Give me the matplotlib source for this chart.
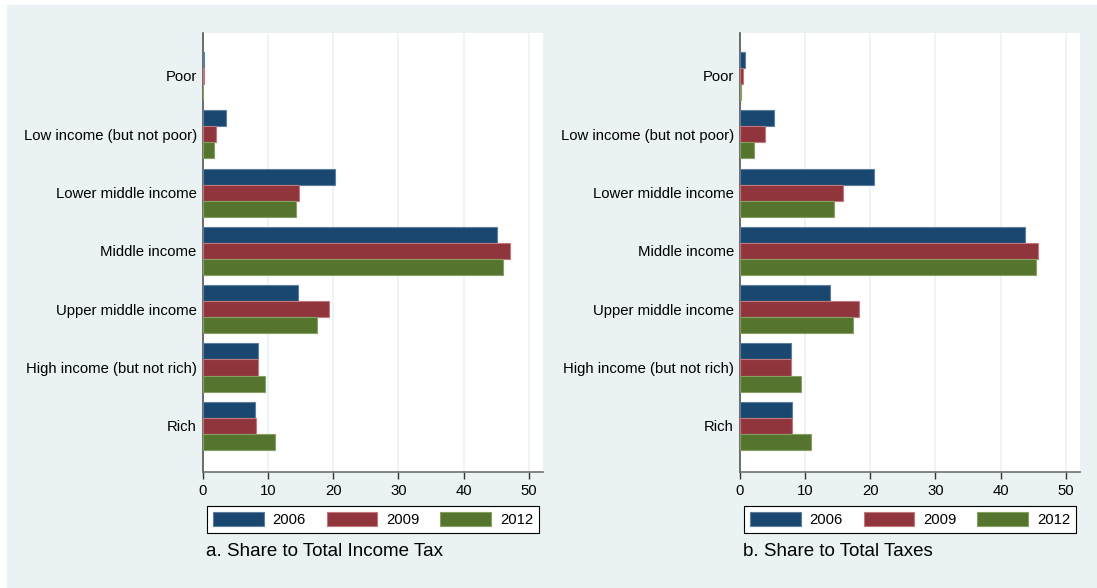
import matplotlib.pyplot as plt
from matplotlib.patches import Rectangle

categories = ["Poor", "Low income (but not poor)", "Lower middle income",
              "Middle income", "Upper middle income",
              "High income (but not rich)", "Rich"]
years = ["2006", "2009", "2012"]

# a. share to total income tax
income_2006 = [0.2, 3.5, 20.2, 45.1, 14.6, 8.5, 8.0]
income_2009 = [0.1, 2.0, 14.7, 47.2, 19.4, 8.5, 8.1]
income_2012 = [0.05, 1.7, 14.2, 46.1, 17.5, 9.5, 11.0]

# b. share to total taxes
taxes_2006 = [0.7, 5.2, 20.5, 43.8, 13.8, 7.8, 8.0]
taxes_2009 = [0.5, 3.8, 15.8, 45.8, 18.2, 7.8, 8.0]
taxes_2012 = [0.2, 2.2, 14.5, 45.4, 17.3, 9.4, 10.9]

xticks = [0, 10, 20, 30, 40, 50]

colors = ["#1a476f", "#90353b", "#55752f"]
edges = ["#5d7e9c", "#c0787d", "#86a064"]
bg = "#eaf2f3"

plt.rcParams['font.family'] = ['Liberation Sans', 'DejaVu Sans']
plt.rcParams['font.size'] = 10.7

fig = plt.figure(figsize=(10.97, 5.88), dpi=100)
fig.patch.set_facecolor("white")
fig.patches.append(Rectangle((7 / 1097, 0), 1 - 7 / 1097, 1 - 5 / 588,
                             transform=fig.transFigure, facecolor=bg,
                             edgecolor="none", zorder=-10))

h = 0.2745


def panel(left, series, subtitle):
    ax = fig.add_axes([left, 0.1978, 0.310, 0.7456])
    ax.set_facecolor("white")
    for k, vals in enumerate(series):
        pos = [i + (k - 1) * h for i in range(len(categories))]
        ax.barh(pos, vals, height=h, color=colors[k], edgecolor=edges[k],
                linewidth=0.8, label=years[k], zorder=3)
    ax.set_ylim(6.787, -0.732)
    ax.set_xlim(0, 52.2)
    ax.set_yticks(range(len(categories)))
    ax.set_yticklabels(categories)
    ax.set_xticks(xticks)
    ax.tick_params(axis="y", length=0, pad=4.5)
    ax.tick_params(axis="x", length=5, width=1, color="#333333", pad=4)
    ax.grid(axis="x", color=bg, linewidth=1.2, zorder=0)
    ax.spines["top"].set_visible(False)
    ax.spines["right"].set_visible(False)
    ax.spines["left"].set_color("#555555")
    ax.spines["bottom"].set_color("#707070")
    ax.spines["left"].set_linewidth(1.2)
    ax.spines["bottom"].set_linewidth(1.2)
    leg = ax.legend(loc="upper center", bbox_to_anchor=(0.5, -0.0776), ncol=3,
                    frameon=True, fancybox=False, edgecolor="black",
                    framealpha=1, handlelength=3.4, handleheight=1.1,
                    handletextpad=0.6, columnspacing=1.4, borderpad=0.4,
                    borderaxespad=0)
    leg.get_frame().set_linewidth(0.8)
    ax.text(0.01, -0.181, subtitle, transform=ax.transAxes, fontsize=13.5,
            ha="left", va="center")
    return ax


panel(203 / 1097, [income_2006, income_2009, income_2012],
      "a. Share to Total Income Tax")
panel(740 / 1097, [taxes_2006, taxes_2009, taxes_2012],
      "b. Share to Total Taxes")

plt.savefig("out.png", dpi=100)
